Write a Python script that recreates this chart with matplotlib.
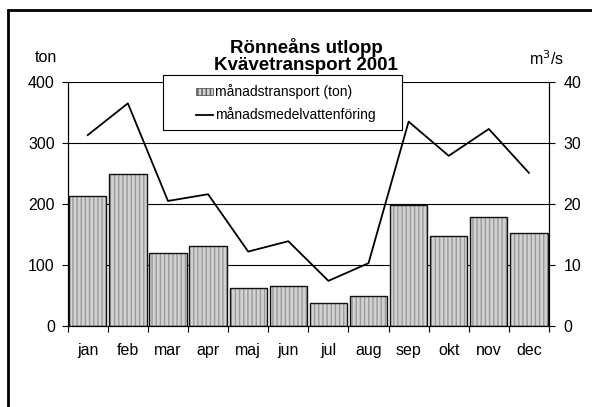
import numpy as np
import matplotlib
matplotlib.use('Agg')
import matplotlib.pyplot as plt
from matplotlib.patches import Rectangle
from matplotlib.lines import Line2D

plt.rcParams['font.family'] = ['Liberation Sans', 'DejaVu Sans']

months = ['jan', 'feb', 'mar', 'apr', 'maj', 'jun', 'jul', 'aug', 'sep', 'okt', 'nov', 'dec']
transport = [213, 250, 119, 131, 63, 66, 37, 50, 199, 148, 179, 153]      # ton
flow = [31.3, 36.5, 20.5, 21.6, 12.2, 13.9, 7.4, 10.3, 33.5, 27.9, 32.3, 25.1]  # m3/s
left_ticks = [0, 100, 200, 300, 400]
right_ticks = [0, 10, 20, 30, 40]
labels = ['månadstransport (ton)', 'månadsmedelvattenföring']

W, H = 592, 407
fig = plt.figure(figsize=(W / 100, H / 100), dpi=100)
ax = fig.add_axes([67.7 / W, 1 - 326 / H, (549 - 67.7) / W, 244 / H])
ax2 = ax.twinx()

def fx(px):
    return px / W

def fy(py):
    return 1 - py / H

x = np.arange(len(months))
w = 0.93
# hatched fill then black outline
ax.bar(x, transport, width=w, color='#d2d2d2', edgecolor='#9a9a9a', hatch='||||', linewidth=0, zorder=2)
ax.bar(x, transport, width=w, fill=False, edgecolor='#111111', linewidth=1.0, zorder=3)

ax.set_xlim(-0.5, len(months) - 0.5)
ax.set_ylim(0, 400)
ax.set_yticks(left_ticks)
for t in left_ticks[1:]:
    ax.axhline(t, color='black', linewidth=0.8, zorder=1)

ax.set_xticks(x)
ax.set_xticklabels(months, fontsize=11.5)
ax.set_xticks(np.arange(-0.5, len(months)), minor=True)
ax.tick_params(axis='x', which='major', length=0, pad=12)
ax.tick_params(axis='x', which='minor', length=4.3, direction='out', width=0.8)
ax.tick_params(axis='y', labelsize=11.5, length=4.3, width=0.8, direction='out', pad=5)

ax2.plot(x, flow, color='black', linewidth=1.3, zorder=4)
ax2.set_ylim(0, 40)
ax2.set_yticks(right_ticks)
ax2.tick_params(axis='y', labelsize=11.5, length=4.3, width=0.8, direction='out', pad=6)

for a in (ax, ax2):
    a.spines['top'].set_visible(False)
    for s in ('left', 'right', 'bottom'):
        a.spines[s].set_linewidth(0.8)

fig.text(fx(306), fy(56), 'Rönneåns utlopp\nKvävetransport 2001', ha='center', va='center',
         fontsize=13.5, fontweight='bold', linespacing=1.0)
fig.text(fx(46), fy(57), 'ton', ha='center', va='center', fontsize=11.5)
fig.text(fx(546), fy(59), 'm$^3$/s', ha='center', va='center', fontsize=11.5)

# legend box drawn like the Excel one
fig.patches.append(Rectangle((fx(163), fy(130)), fx(402) - fx(163), fy(75) - fy(130),
                             transform=fig.transFigure, facecolor='white', edgecolor='black',
                             linewidth=0.8, zorder=5, figure=fig))
fig.patches.append(Rectangle((fx(196), fy(95)), fx(213) - fx(196), fy(88) - fy(95),
                             transform=fig.transFigure, facecolor='#d2d2d2', edgecolor='#555555',
                             hatch='||||', linewidth=0.6, zorder=6, figure=fig))
fig.lines.append(Line2D([fx(196), fx(213)], [fy(115), fy(115)], transform=fig.transFigure,
                        color='black', linewidth=1.3, zorder=6, figure=fig))
for ly, lab in zip([91.5, 115], labels):
    fig.text(fx(215), fy(ly), lab, ha='left', va='center', fontsize=10, zorder=7)

fig.patches.append(Rectangle((fx(7.5), -0.1), 1.2, fy(10.5) + 0.1, transform=fig.transFigure,
                             fill=False, edgecolor='black', linewidth=2, figure=fig))

fig.savefig('out.png', dpi=100)
